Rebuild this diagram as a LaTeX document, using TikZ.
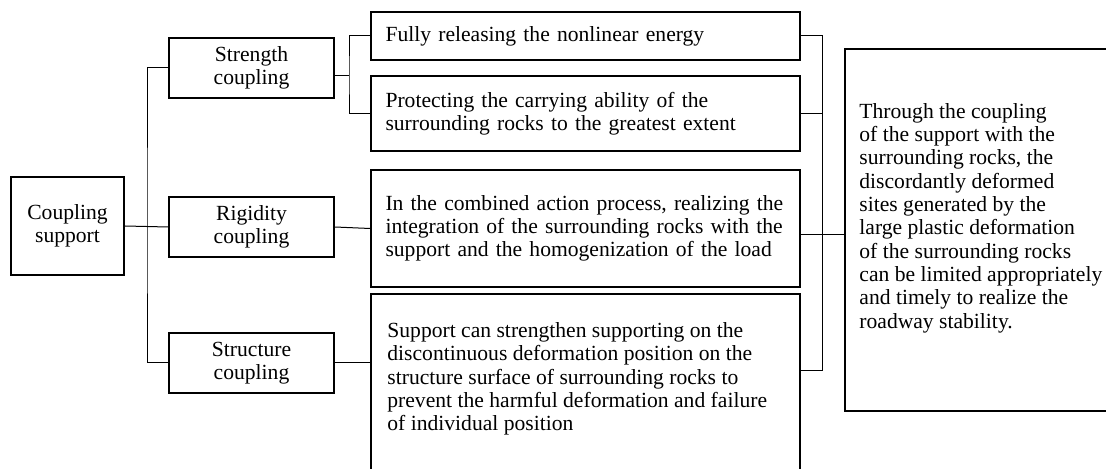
\documentclass[tikz,border=0pt]{standalone}
\usepackage{fontspec}
\setmainfont{Liberation Serif}
\begin{document}
\begin{tikzpicture}[x=0.5pt,y=-0.5pt,
    font=\fontsize{10.8}{11.65}\selectfont,
    box/.style={draw,line width=0.9pt,inner sep=0pt},
    kind/.style={box,align=center,minimum width=82.5pt,minimum height=30pt},
    effect/.style={box,align=left,text width=200pt,inner xsep=7.25pt},
    link/.style={line width=0.5pt}]
    \useasboundingbox (0,0) rectangle (1106,469);
    \clip (0,0) rectangle (1106,469);

    \node[box,align=center,minimum width=56.5pt,minimum height=49pt] (cs) at (67.5,226) {Coupling\\support};
    \node[kind] (sc) at (251.5,68) {Strength\\coupling};
    \node[kind] (rc) at (251.5,227) {Rigidity\\coupling};
    \node[kind] (stc) at (251.5,363) {Structure\\coupling};

    \node[effect,minimum height=24pt] (fr) at (585.5,36) {Fully releasing the nonlinear energy};
    \node[effect,minimum height=37.5pt] (pr) at (585.5,113.5) {Protecting the carrying ability of the\\surrounding rocks to the greatest extent};
    \node[effect,minimum height=58.5pt] (rd) at (585.5,228.5) {In the combined action process, realizing the\\integration of the surrounding rocks with the\\support and the homogenization of the load};
    \node[box,minimum width=214.5pt,minimum height=100pt,anchor=north] (sd) at (585.5,293) {};
    \node[anchor=west,align=left,inner sep=0pt] (sdtext) at (387,379) {Support can strengthen supporting on the\\discontinuous deformation position on the\\structure surface of surrounding rocks to\\prevent the harmful deformation and failure\\of individual position};

    \node[box,minimum width=134pt,minimum height=181pt,anchor=north west] (res) at (844,48) {};
    \node[anchor=west,align=left,inner sep=0pt] (restext) at (859,218) {Through the coupling\\of the support with the\\surrounding rocks, the\\discordantly deformed\\sites generated by the\\large plastic deformation\\of the surrounding rocks\\can be limited appropriately\\and timely to realize the\\roadway stability.};

    \coordinate (tk) at (147,0);
    \coordinate (sj) at (349,76);
    \coordinate (rj) at (822,371);
    \coordinate (rl) at (0,235);

    \draw[link] (cs.east) -- (rc.west);
    \draw[link] (sc.west) -| (tk |- cs.east) |- (stc.west);
    \draw[link] (sc.east |- sj) -- (sj);
    \draw[link] (fr.west) -| (sj) |- (pr.west);
    \draw[link] (rc.east) -- (rd.west);
    \draw[link] (stc.east) -- (sd.west |- stc.east);
    \draw[link] (fr.east) -| (rj) -- (sd.east |- rj);
    \draw[link] (pr.east) -- (rj |- pr.east);
    \draw[link] (rd.east |- rl) -- (res.west |- rl);
\end{tikzpicture}
\end{document}
